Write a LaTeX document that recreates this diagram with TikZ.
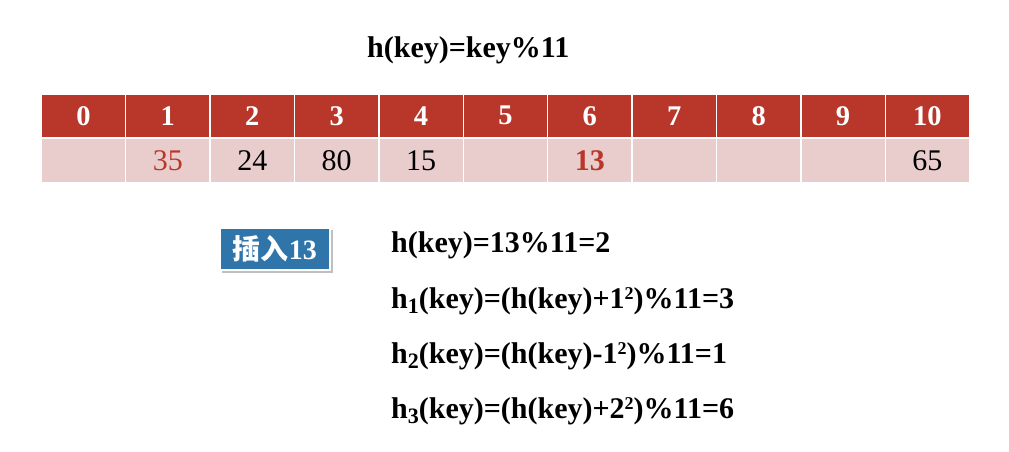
\documentclass[tikz,border=0pt]{standalone}
\usepackage{fontspec}
\setmainfont{Liberation Serif}
\newfontfamily\cjk{Noto Sans CJK SC}
\definecolor{hdr}{HTML}{B9372A}
\definecolor{cellbg}{HTML}{E8CDCC}
\definecolor{boxblue}{HTML}{2F75A9}
\newcommand{\mysub}[1]{\raisebox{-5pt}{\fontsize{22}{22}\selectfont\bfseries #1}}
\newcommand{\mysup}[1]{\raisebox{9pt}{\fontsize{18}{18}\selectfont\bfseries #1}}
\begin{document}
\begin{tikzpicture}[x=1pt,y=-1pt,
  hcell/.style={draw=white,line width=1.5pt,fill=hdr,minimum width=84.4pt,minimum height=43pt,inner sep=0pt,anchor=north west,text=white,font=\fontsize{28.5}{28.5}\selectfont\bfseries},
  dcell/.style={draw=white,line width=1.5pt,fill=cellbg,minimum width=84.4pt,minimum height=44pt,inner sep=0pt,anchor=north west,font=\fontsize{30}{30}\selectfont},
  formula/.style={anchor=base west,inner sep=0pt,font=\fontsize{30}{30}\selectfont\bfseries}]
\useasboundingbox (0,0) rectangle (1009,451);
\node[anchor=base west,inner sep=0pt,font=\fontsize{30}{30}\selectfont\bfseries] (title) at (367,57) {h(key)=key\%11};
\foreach \i/\v/\c in {0//black,1/35/hdr,2/24/black,3/80/black,4/15/black,5//black,6/\textbf{13}/hdr,7//black,8//black,9//black,10/65/black}{
  \node[hcell] (h\i) at ({40.5+84.4*\i},93.5) {\i};
  \node[dcell,text=\c] (d\i) at ({40.5+84.4*\i},137.5) {\v};
}
\fill[black!25] (222,230) rectangle (333,273);
\node[fill=boxblue,draw=white,line width=1.5pt,minimum width=110pt,minimum height=42pt,inner sep=0pt,anchor=north west,text=white,font=\fontsize{28}{28}\selectfont\bfseries] (ins) at (219,227) {{\cjk\bfseries 插入}13};
\node[formula] (f0) at (391,252) {h(key)=13\%11=2};
\node[formula] (f1) at (391,308) {h\mysub{1}(key)=(h(key)+1\mysup{2})\%11=3};
\node[formula] (f2) at (391,363) {h\mysub{2}(key)=(h(key)-1\mysup{2})\%11=1};
\node[formula] (f3) at (391,418) {h\mysub{3}(key)=(h(key)+2\mysup{2})\%11=6};
\end{tikzpicture}
\end{document}
